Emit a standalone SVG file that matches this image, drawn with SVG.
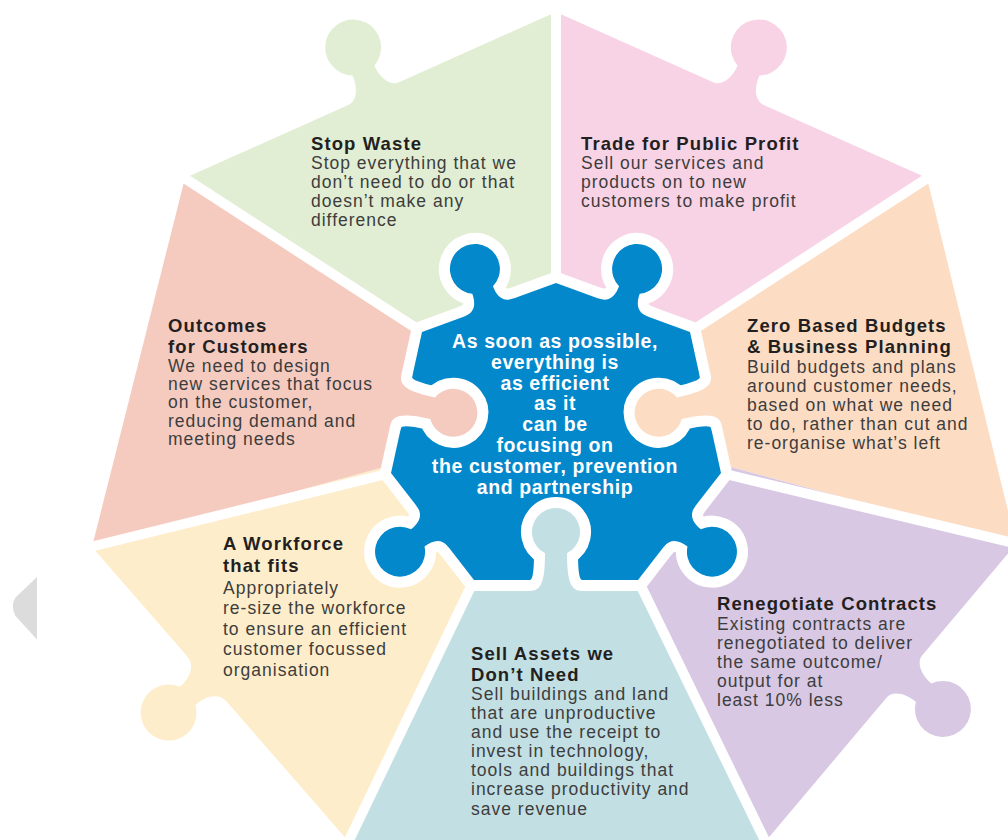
<svg xmlns="http://www.w3.org/2000/svg" xmlns:xlink="http://www.w3.org/1999/xlink" width="1008" height="840" viewBox="0 0 1008 840">
<style>
.blk{font-family:"Liberation Sans",Arial,sans-serif}
.t{font-weight:bold;font-size:18.5px;letter-spacing:1.1px;fill:#231f20}
.b{font-size:17.5px;letter-spacing:1px;fill:#3d3d3d}
.c{font-family:"Liberation Sans",Arial,sans-serif;font-weight:bold;font-size:19.5px;letter-spacing:0.6px;fill:#ffffff;text-anchor:middle}
.gap{stroke:#ffffff;stroke-width:10;stroke-linecap:butt;fill:none}
</style>
<defs>
<path id="tabO" d="M -30 3 L -30 0 C -18 0 -12 -12 -12 -25.7 A 28 28 0 1 1 12 -25.7 C 12 -12 18 0 30 0 L 30 3 Z"/>
<path id="knobB" d="M -26 4 L -26 0 C -15 0 -11 -8 -11 -18.6 A 25 25 0 1 1 11 -18.6 C 11 -8 15 0 26 0 L 26 4 Z"/>
<path id="tabI" d="M -26 19 L -26 11 C -15 11 -11 2 -11 -26.7 A 24 24 0 1 1 11 -26.7 C 11 2 15 11 26 11 L 26 19 Z"/>
<polygon id="hept" points="556,283 690,332 721,473 638,580 474,580 391,473 422,332"/>
<g id="blueBody">
<use xlink:href="#hept"/>
<use xlink:href="#knobB" transform="translate(623,307.5) rotate(20.09)"/>
<use xlink:href="#knobB" transform="translate(679.5,526.5) rotate(127.8)"/>
<use xlink:href="#knobB" transform="translate(432.5,526.5) rotate(-127.8)"/>
<use xlink:href="#knobB" transform="translate(489,307.5) rotate(-20.09)"/>
</g>
<mask id="bm" maskUnits="userSpaceOnUse" x="0" y="0" width="1008" height="840">
<rect x="0" y="0" width="1008" height="840" fill="#ffffff"/>
<g fill="#000000" stroke="#000000" stroke-width="22" stroke-linejoin="round">
<use xlink:href="#tabI" transform="translate(705.5,402.5) rotate(-102.4)"/>
<use xlink:href="#tabI" transform="translate(556,580)"/>
<use xlink:href="#tabI" transform="translate(406.5,402.5) rotate(102.4)"/>
</g>
</mask>
</defs>
<rect x="0" y="0" width="1008" height="840" fill="#ffffff"/>
<path d="M37 577 L15.5 597.5 Q10 606 15.5 616 L37 639.5 Z" fill="#dcdcdc"/>

<g id="sectors">
<g id="stop-waste-shape" fill="#e1eed3">
<polygon points="556,420 185,178 556,12"/>
<use xlink:href="#tabO" transform="translate(374,94) rotate(-24.1)"/>
</g>
<g id="trade-shape" fill="#f8d3e5">
<polygon points="556,420 556,12 927,178"/>
<use xlink:href="#tabO" transform="translate(738,94) rotate(24.1)"/>
</g>
<g id="zero-shape" fill="#fddcc4">
<polygon points="556,420 927,178 1016,544"/>
</g>
<g id="renegotiate-shape" fill="#d8c8e3">
<polygon points="556,420 1016,544 765,842"/>
<use xlink:href="#tabO" transform="translate(904,676) rotate(130.3)"/>
</g>
<g id="sell-shape" fill="#c2dfe3">
<polygon points="556,420 765,842 349,842"/>
</g>
<g id="workforce-shape" fill="#feedca">
<polygon points="556,420 349,842 92,547"/>
<use xlink:href="#tabO" transform="translate(207,679) rotate(-131.1)"/>
</g>
<g id="outcomes-shape" fill="#f5cbc0">
<polygon points="556,420 92,547 185,178"/>
</g>
</g>

<g id="gaps" class="gap">
<line x1="556" y1="0" x2="556" y2="290"/>
<line x1="940" y1="170" x2="690" y2="332"/>
<line x1="1030" y1="547" x2="721" y2="473"/>
<line x1="772" y1="855" x2="638" y2="580"/>
<line x1="342" y1="855" x2="474" y2="580"/>
<line x1="78" y1="550" x2="391" y2="473"/>
<line x1="172" y1="170" x2="422" y2="332"/>
</g>

<g id="center">
<g fill="#ffffff" stroke="#ffffff" stroke-width="22" stroke-linejoin="round">
<use xlink:href="#blueBody"/>
</g>
<use xlink:href="#tabI" transform="translate(705.5,402.5) rotate(-102.4)" fill="#fddcc4"/>
<use xlink:href="#tabI" transform="translate(556,580)" fill="#c2dfe3"/>
<use xlink:href="#tabI" transform="translate(406.5,402.5) rotate(102.4)" fill="#f5cbc0"/>
<g mask="url(#bm)" fill="#0388cb">
<use xlink:href="#blueBody"/>
</g>
<text class="c"><tspan x="555" y="348">As soon as possible,</tspan><tspan x="555" y="369">everything is</tspan><tspan x="555" y="389.5">as efficient</tspan><tspan x="555" y="410">as it</tspan><tspan x="555" y="431">can be</tspan><tspan x="555" y="452">focusing on</tspan><tspan x="555" y="473">the customer, prevention</tspan><tspan x="555" y="493.5">and partnership</tspan></text>
</g>

<g id="stop-waste">
<text class="blk"><tspan class="t" x="311" y="150">Stop Waste</tspan><tspan class="b" x="311" y="169">Stop everything that we</tspan><tspan class="b" x="311" y="188">don’t need to do or that</tspan><tspan class="b" x="311" y="207">doesn’t make any</tspan><tspan class="b" x="311" y="226">difference</tspan></text>
</g>
<g id="trade">
<text class="blk"><tspan class="t" x="581" y="150">Trade for Public Profit</tspan><tspan class="b" x="581" y="169">Sell our services and</tspan><tspan class="b" x="581" y="188">products on to new</tspan><tspan class="b" x="581" y="207">customers to make profit</tspan></text>
</g>
<g id="outcomes">
<text class="blk"><tspan class="t" x="168" y="331.5">Outcomes</tspan><tspan class="t" x="168" y="353">for Customers</tspan><tspan class="b" x="168" y="371.7">We need to design</tspan><tspan class="b" x="168" y="390">new services that focus</tspan><tspan class="b" x="168" y="408.3">on the customer,</tspan><tspan class="b" x="168" y="426.7">reducing demand and</tspan><tspan class="b" x="168" y="445">meeting needs</tspan></text>
</g>
<g id="zero-based">
<text class="blk"><tspan class="t" x="747" y="331.5">Zero Based Budgets</tspan><tspan class="t" x="747" y="353">&amp; Business Planning</tspan><tspan class="b" x="747" y="372.5">Build budgets and plans</tspan><tspan class="b" x="747" y="391.5">around customer needs,</tspan><tspan class="b" x="747" y="410.5">based on what we need</tspan><tspan class="b" x="747" y="429.5">to do, rather than cut and</tspan><tspan class="b" x="747" y="448.5">re-organise what’s left</tspan></text>
</g>
<g id="workforce">
<text class="blk"><tspan class="t" x="223" y="550">A Workforce</tspan><tspan class="t" x="223" y="572">that fits</tspan><tspan class="b" x="223" y="593.5">Appropriately</tspan><tspan class="b" x="223" y="614">re-size the workforce</tspan><tspan class="b" x="223" y="634.5">to ensure an efficient</tspan><tspan class="b" x="223" y="655">customer focussed</tspan><tspan class="b" x="223" y="675.5">organisation</tspan></text>
</g>
<g id="sell-assets">
<text class="blk"><tspan class="t" x="471" y="660">Sell Assets we</tspan><tspan class="t" x="471" y="681">Don’t Need</tspan><tspan class="b" x="471" y="700">Sell buildings and land</tspan><tspan class="b" x="471" y="719">that are unproductive</tspan><tspan class="b" x="471" y="738">and use the receipt to</tspan><tspan class="b" x="471" y="757">invest in technology,</tspan><tspan class="b" x="471" y="776">tools and buildings that</tspan><tspan class="b" x="471" y="795">increase productivity and</tspan><tspan class="b" x="471" y="815">save revenue</tspan></text>
</g>
<g id="renegotiate">
<text class="blk"><tspan class="t" x="717" y="610">Renegotiate Contracts</tspan><tspan class="b" x="717" y="630">Existing contracts are</tspan><tspan class="b" x="717" y="649">renegotiated to deliver</tspan><tspan class="b" x="717" y="668">the same outcome/</tspan><tspan class="b" x="717" y="687">output for at</tspan><tspan class="b" x="717" y="706">least 10% less</tspan></text>
</g>
</svg>
